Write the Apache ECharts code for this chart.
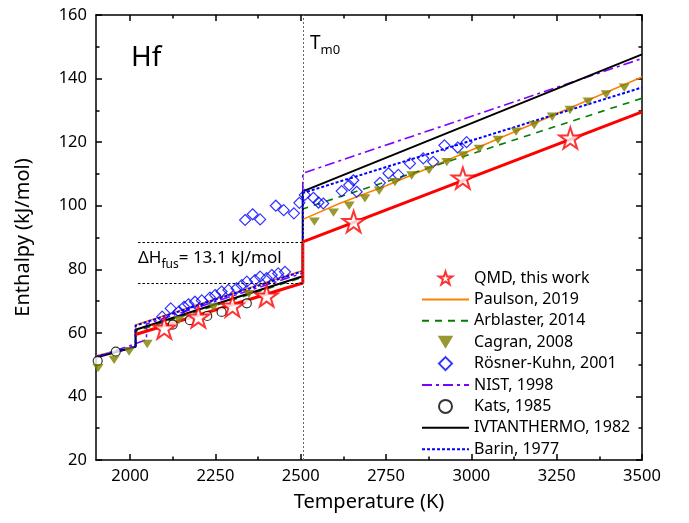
<!DOCTYPE html>
<html>
<head>
<meta charset="utf-8">
<script src="https://cdn.jsdelivr.net/npm/echarts@6/dist/echarts.min.js"></script>
<style>
html, body { margin: 0; padding: 0; background: #fff; }
#chart { width: 689px; height: 523px; }
</style>
</head>
<body>
<div id="chart"></div>
<script>
// axis ticks
var xMajor = [2000, 2250, 2500, 2750, 3000, 3250, 3500];
var xMinor = [2125, 2375, 2625, 2875, 3125, 3375];

// melting point and fusion step (QMD)
var tMelt = 2506;
var fusLow = 75.7;
var fusHigh = 88.6;

// QMD, this work
var qmdT = [2100, 2200, 2300, 2400, 2655, 2975, 3290];
var qmdH = [61.5, 65.0, 68.4, 71.6, 95.0, 108.7, 121.3];
var qmdLineT = [2016, 2506, 2506, 3500];
var qmdLineH = [59.5, 75.7, 88.6, 129.5];

// Paulson, 2019
var paulsonT = [1900, 2016, 2016, 2506, 2506, 2615, 2750, 3055, 3500];
var paulsonH = [52.8, 55.8, 62.5, 79.6, 95.7, 100.8, 106.3, 120.0, 140.5];

// Arblaster, 2014
var arblasterT = [1900, 2016, 2016, 2506, 2506, 3500];
var arblasterH = [52.4, 55.6, 60.5, 77.5, 99.0, 133.8];

// Cagran, 2008
var cagranT = [1906, 1953, 1997, 2050, 2143, 2244, 2348,
  2540, 2596, 2642, 2688, 2730, 2776, 2825, 2876, 2928, 2976, 3023, 3078, 3131, 3184, 3237, 3289, 3342, 3395, 3448];
var cagranH = [48.9, 51.5, 54.1, 56.5, 64.0, 68.0, 72.2,
  95.0, 97.8, 100.0, 102.3, 104.7, 107.4, 109.5, 111.2, 113.7, 115.8, 117.9, 120.7, 123.3, 125.4, 128.0, 130.1, 132.7, 135.0, 137.1];

// Rösner-Kuhn, 2001
var rosnerT = [2094, 2119, 2143, 2158, 2171, 2190, 2210, 2234, 2249, 2268, 2288, 2312, 2327, 2342, 2366, 2381, 2400, 2415, 2434, 2454,
  2337, 2359, 2381, 2427, 2450, 2480, 2496,
  2512, 2537, 2552, 2566, 2620, 2642, 2654, 2664, 2732, 2757, 2786, 2820, 2859, 2888, 2921, 2960, 2986];
var rosnerH = [65.1, 67.7, 66.7, 68.2, 69.0, 69.8, 70.2, 71.1, 71.9, 73.0, 73.5, 74.0, 75.0, 76.1, 76.6, 77.7, 77.2, 78.2, 78.7, 79.2,
  95.5, 97.3, 95.7, 100.0, 98.6, 97.6, 100.9,
  103.4, 102.5, 101.0, 100.7, 104.6, 106.5, 108.0, 104.4, 107.2, 110.2, 109.7, 113.3, 114.9, 113.8, 119.0, 118.3, 120.0];

// NIST, 1998
var nistT = [1900, 2048, 2048, 2506, 2506, 3500];
var nistH = [52.3, 57.8, 62.8, 78.8, 110.2, 146.3];

// Kats, 1985
var katsT = [1905, 1958, 2125, 2175, 2226, 2268, 2342];
var katsH = [51.2, 54.1, 62.6, 64.0, 65.3, 66.6, 69.3];

// IVTANTHERMO, 1982
var ivtanT = [1900, 2016, 2016, 2506, 2506, 3500];
var ivtanH = [52.2, 55.6, 61.0, 77.8, 104.5, 147.6];

// Barin, 1977
var barinT = [1900, 2016, 2016, 2506, 2506, 3500];
var barinH = [52.5, 55.8, 62.3, 79.4, 104.0, 137.2];

var FONT = '"Noto Sans", sans-serif';
var starPath = 'path://M50,2 L61,36 L97,36 L68,57 L79,92 L50,71 L21,92 L32,57 L3,36 L39,36 Z';
var downTriangle = 'path://M0,0 L12,0 L6,10 Z';
var diamondPath = 'path://M5,0 L10,5 L5,10 L0,5 Z';

function pairs(t, h) {
  return t.map(function (v, i) { return [v, h[i]]; });
}

function lineSeries(name, t, h, color, width, type, z) {
  return {
    name: name,
    type: 'line',
    data: pairs(t, h),
    symbol: 'none',
    lineStyle: { color: color, width: width, type: type },
    itemStyle: { color: color },
    z: z || 2
  };
}

// legend entries; line entries get no marker
function lineEntry(name) {
  return { name: name, itemStyle: { opacity: 0 } };
}

var myChart = echarts.init(document.getElementById('chart'));

var option = {
  animation: false,
  grid: { left: 96, right: 47, top: 15, bottom: 63 },
  xAxis: [{
    type: 'value', position: 'bottom', min: 1900, max: 3500,
    name: 'Temperature (K)', nameLocation: 'middle', nameGap: 32,
    nameTextStyle: { fontFamily: FONT, fontSize: 20, color: '#000' },
    axisLine: { lineStyle: { color: '#000', width: 1.5 } },
    axisTick: { inside: true, length: 6, customValues: xMajor, lineStyle: { color: '#000', width: 1.5 } },
    axisLabel: { customValues: xMajor, formatter: function (v) { return String(v); },
      fontFamily: FONT, fontSize: 16.5, color: '#000', margin: 8 },
    splitLine: { show: false }
  }, {
    type: 'value', position: 'bottom', min: 1900, max: 3500,
    axisLine: { show: false },
    axisTick: { inside: true, length: 3.5, customValues: xMinor, lineStyle: { color: '#000', width: 1.5 } },
    axisLabel: { show: false },
    splitLine: { show: false }
  }, {
    type: 'value', position: 'top', min: 1900, max: 3500,
    axisLine: { lineStyle: { color: '#000', width: 1.5 } },
    axisTick: { inside: true, length: 6, customValues: xMajor, lineStyle: { color: '#000', width: 1.5 } },
    axisLabel: { show: false },
    splitLine: { show: false }
  }, {
    type: 'value', position: 'top', min: 1900, max: 3500,
    axisLine: { show: false },
    axisTick: { inside: true, length: 3.5, customValues: xMinor, lineStyle: { color: '#000', width: 1.5 } },
    axisLabel: { show: false },
    splitLine: { show: false }
  }],
  yAxis: [{
    type: 'value', position: 'left', min: 20, max: 160, interval: 20,
    name: 'Enthalpy (kJ/mol)', nameLocation: 'middle', nameGap: 63, nameRotate: 90,
    nameTextStyle: { fontFamily: FONT, fontSize: 20, color: '#000' },
    axisLine: { lineStyle: { color: '#000', width: 1.5 } },
    axisTick: { inside: true, length: 6, lineStyle: { color: '#000', width: 1.5 } },
    minorTick: { show: true, splitNumber: 2, length: 3.5, lineStyle: { color: '#000', width: 1.5 } },
    axisLabel: { fontFamily: FONT, fontSize: 16.5, color: '#000', margin: 9 },
    splitLine: { show: false }
  }, {
    type: 'value', position: 'right', min: 20, max: 160, interval: 20,
    axisLine: { lineStyle: { color: '#000', width: 1.5 } },
    axisTick: { inside: true, length: 6, lineStyle: { color: '#000', width: 1.5 } },
    minorTick: { show: true, splitNumber: 2, length: 3.5, lineStyle: { color: '#000', width: 1.5 } },
    axisLabel: { show: false },
    splitLine: { show: false }
  }],
  legend: {
    orient: 'vertical', left: 416, top: 265,
    itemWidth: 47, itemHeight: 13, itemGap: 5.4, itemTextGap: 6,
    textStyle: { fontFamily: FONT, fontSize: 16, color: '#000' },
    data: ['QMD, this work', lineEntry('Paulson, 2019'), lineEntry('Arblaster, 2014'), 'Cagran, 2008', 'Rösner-Kuhn, 2001',
      lineEntry('NIST, 1998'), 'Kats, 1985', lineEntry('IVTANTHERMO, 1982'), lineEntry('Barin, 1977')]
  },
  graphic: [
    { type: 'text', left: 131, top: 44, style: { text: 'Hf', font: '28px ' + FONT, fill: '#000' } },
    { type: 'text', left: 310, top: 34, style: {
      text: '{a|T}{b|m0}',
      rich: {
        a: { fontFamily: FONT, fontSize: 19, lineHeight: 27, verticalAlign: 'middle', fill: '#000' },
        b: { fontFamily: FONT, fontSize: 13, lineHeight: 27, verticalAlign: 'bottom', fill: '#000' }
      }
    } },
    { type: 'text', left: 138, top: 250, style: {
      text: '{a|ΔH}{b|fus}{a|= 13.1 kJ/mol}',
      rich: {
        a: { fontFamily: FONT, fontSize: 17, lineHeight: 25, verticalAlign: 'middle', fill: '#000' },
        b: { fontFamily: FONT, fontSize: 12, lineHeight: 25, verticalAlign: 'bottom', fill: '#000' }
      }
    } }
  ],
  series: [
    {
      name: 'QMD line', type: 'line', data: pairs(qmdLineT, qmdLineH), symbol: 'none',
      lineStyle: { color: '#ff0000', width: 3 }, z: 4,
      markLine: {
        silent: true, symbol: ['none', 'none'], label: { show: false },
        data: [
          { xAxis: tMelt, lineStyle: { color: '#666', width: 1, type: [2, 2] } },
          [{ coord: [2023, fusHigh], lineStyle: { color: '#000', width: 1, type: [2.5, 2] } }, { coord: [tMelt, fusHigh] }],
          [{ coord: [2023, fusLow], lineStyle: { color: '#000', width: 1, type: [2.5, 2] } }, { coord: [tMelt, fusLow] }]
        ]
      }
    },
    lineSeries('Paulson, 2019', paulsonT, paulsonH, '#ff8000', 1.6, 'solid', 3),
    lineSeries('Arblaster, 2014', arblasterT, arblasterH, '#008000', 1.6, [7, 6], 3),
    {
      name: 'Cagran, 2008', type: 'scatter', data: pairs(cagranT, cagranH),
      symbol: downTriangle, symbolSize: [11, 10], symbolKeepAspect: true,
      itemStyle: { color: '#808000' }, z: 6
    },
    {
      name: 'Rösner-Kuhn, 2001', type: 'scatter', data: pairs(rosnerT, rosnerH),
      symbol: diamondPath, symbolSize: 11, symbolKeepAspect: true,
      itemStyle: { color: 'rgba(255,255,255,0)', borderColor: '#0000ff', borderWidth: 1.2 }, z: 5
    },
    lineSeries('NIST, 1998', nistT, nistH, '#8000ff', 1.6, [10, 4, 3, 4], 3),
    {
      name: 'Kats, 1985', type: 'scatter', data: pairs(katsT, katsH),
      symbol: 'circle', symbolSize: 9, symbolKeepAspect: true,
      itemStyle: { color: '#fff', borderColor: '#000', borderWidth: 1.2 }, z: 5
    },
    lineSeries('IVTANTHERMO, 1982', ivtanT, ivtanH, '#000000', 2, 'solid', 3),
    lineSeries('Barin, 1977', barinT, barinH, '#0000ff', 2, [3, 2], 3),
    {
      name: 'QMD, this work', type: 'scatter', data: pairs(qmdT, qmdH),
      symbol: starPath, symbolSize: 22, symbolKeepAspect: true,
      itemStyle: { color: '#fff', borderColor: '#ff0000', borderWidth: 2 }, z: 7
    }
  ]
};

myChart.setOption(option);
</script>
</body>
</html>
